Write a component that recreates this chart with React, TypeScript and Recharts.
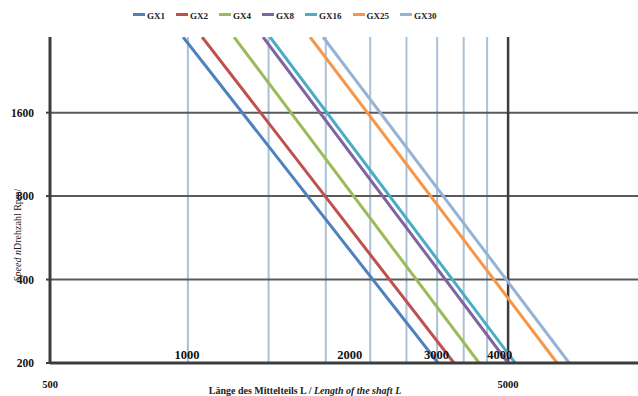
import React from 'react';
import { LineChart, Line, XAxis, YAxis, ReferenceLine, Legend } from 'recharts';

const seriesNames = ['GX1', 'GX2', 'GX4', 'GX8', 'GX16', 'GX25', 'GX30'];
const seriesColors = ['#4f81bd', '#c0504d', '#9bbb59', '#8064a2', '#4bacc6', '#f79646', '#95b3d7'];
const speedEnds = [3000, 200]; // top of plot / bottom of plot
const lengthAtTop = [976, 1074, 1261, 1459, 1511, 1848, 1973];
const lengthAtBottom = [3517, 3810, 4322, 5000, 5181, 6396, 6797];

const xTicks = [500, 1000, 2000, 3000, 4000, 5000];
const yTicks = [200, 400, 800, 1600];
const lightLengths = [1000, 1500, 2000, 2500, 3000, 3500, 4000, 4500];
const darkLengths = [5000];
const speedGrid = [400, 800, 1600];

const series = seriesNames.map((name, i) => ({
  name,
  color: seriesColors[i],
  data: [
    { L: lengthAtTop[i], n: speedEnds[0] },
    { L: lengthAtBottom[i], n: speedEnds[1] },
  ],
}));

const font = '"Liberation Serif", "Times New Roman", serif';
const axisColor = '#3c3c3c';

// labels inside the plot sit a bit right of their lines, like the original
const insideShift: Record<number, number> = { 1000: -1, 2000: 24, 3000: 30, 4000: 36 };

const XTick = (props: any) => {
  const { x, y, payload } = props;
  const v = payload.value;
  const inside = v in insideShift;
  return (
    <text
      x={x + (inside ? insideShift[v] : 0)}
      y={inside ? y - 6 : y + 23}
      textAnchor="middle"
      fontFamily={font}
      fontWeight="bold"
      fontSize={inside ? 12.5 : 10.5}
      fill="#111"
    >
      {v}
    </text>
  );
};

const LegendBox = () => (
  <div style={{ display: 'flex', gap: 11, fontFamily: font, fontWeight: 'bold', fontSize: 9 }}>
    {series.map((s) => (
      <div key={s.name} style={{ display: 'flex', alignItems: 'center' }}>
        <span style={{ width: 12, height: 3, background: s.color, marginRight: 2, marginTop: -3 }} />
        <span style={{ color: '#222' }}>{s.name}</span>
      </div>
    ))}
  </div>
);

const XLabel = () => (
  <text x={305} y={394} textAnchor="middle" fontFamily={font} fontWeight="bold" fontSize={10} fill="#222">
    Länge des Mittelteils L / <tspan fontStyle="italic">Length of the shaft L</tspan>
  </text>
);

const YLabel = () => (
  <text
    x={0}
    y={0}
    transform="translate(21, 235) rotate(-90)"
    textAnchor="middle"
    fontFamily={font}
    fontSize={10}
    fill="#222"
  >
    <tspan fontStyle="italic">Speed n</tspan>Drehzahl Rpm/
  </text>
);

export default function App() {
  return (
    <div style={{ position: 'absolute', left: 0, top: 0, width: 638, height: 396, overflow: 'hidden', background: '#fff' }}>
      <LineChart width={660} height={396} margin={{ top: 37, right: 14, bottom: 3, left: 0 }}>
        <XAxis
          dataKey="L"
          type="number"
          scale="log"
          domain={[500, 10000]}
          allowDataOverflow
          ticks={xTicks}
          tick={<XTick />}
          tickLine={false}
          tickSize={0}
          height={30}
          axisLine={{ stroke: axisColor, strokeWidth: 3 }}
          label={<XLabel />}
        />
        <YAxis
          dataKey="n"
          type="number"
          scale="log"
          domain={[200, 3000]}
          allowDataOverflow
          ticks={yTicks}
          width={50}
          tickSize={4}
          tickMargin={12}
          tickLine={{ stroke: axisColor, strokeWidth: 2 }}
          tick={{ fontFamily: font, fontWeight: 'bold', fontSize: 11.5, fill: '#111' }}
          axisLine={{ stroke: axisColor, strokeWidth: 3 }}
          label={<YLabel />}
        />
        {lightLengths.map((v) => (
          <ReferenceLine key={'l' + v} x={v} stroke="#a9c1d9" strokeWidth={2} />
        ))}
        {speedGrid.map((v) => (
          <ReferenceLine key={'s' + v} y={v} stroke="#5a5a5a" strokeWidth={2} />
        ))}
        {darkLengths.map((v) => (
          <ReferenceLine key={'d' + v} x={v} stroke={axisColor} strokeWidth={2.5} />
        ))}
        {series.map((s) => (
          <Line
            key={s.name}
            data={s.data}
            dataKey="n"
            name={s.name}
            stroke={s.color}
            strokeWidth={3}
            dot={false}
            isAnimationActive={false}
          />
        ))}
        <Legend
          verticalAlign="middle"
          layout="horizontal"
          content={<LegendBox />}
          wrapperStyle={{ top: 11, left: 133, width: 340, height: 16 }}
        />
      </LineChart>
    </div>
  );
}
